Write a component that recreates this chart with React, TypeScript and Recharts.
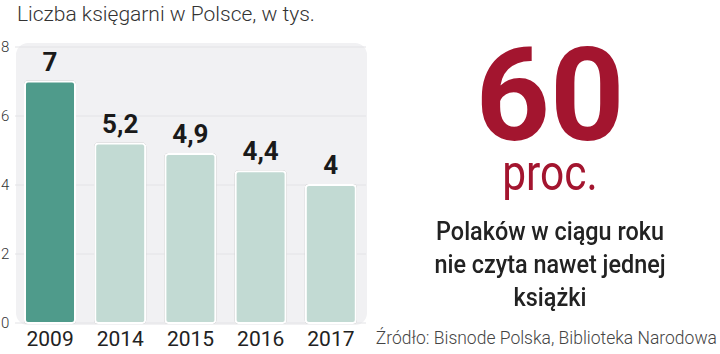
import { BarChart, Bar, XAxis, YAxis, CartesianGrid, Cell, LabelList } from 'recharts';

const years = ['2009', '2014', '2015', '2016', '2017'];
const shops = [7, 5.2, 4.9, 4.4, 4];
const yTicks = [0, 2, 4, 6, 8];

const data = years.map((year, i) => ({ year, value: shops[i] }));

const DARK = '#4f9b8b';
const LIGHT = '#c2dad3';
const FONT = 'Roboto, "Open Sans", sans-serif';

const YTick = (props: any) => {
  const { y, payload } = props;
  return (
    <text x={1} y={y} dy={5} fill="#333" fontSize={15} fontFamily={FONT} fontWeight={300}>
      {payload.value}
    </text>
  );
};

export default function App() {
  return (
    <div
      style={{
        position: 'absolute',
        left: 0,
        top: 0,
        width: 720,
        height: 354,
        background: '#fff',
        fontFamily: FONT,
        overflow: 'hidden',
      }}
    >
      <div
        style={{
          position: 'absolute',
          left: 17,
          top: 2,
          fontSize: 21,
          fontWeight: 300,
          color: '#333',
          whiteSpace: 'nowrap',
        }}
      >
        Liczba księgarni w Polsce, w tys.
      </div>
      <div
        style={{
          position: 'absolute',
          left: 16,
          top: 43,
          width: 351,
          height: 282,
          background: '#f1f1f3',
          borderRadius: 12,
        }}
      />
      <div style={{ position: 'absolute', left: 0, top: 0 }}>
        <BarChart
          width={370}
          height={354}
          data={data}
          margin={{ top: 47, right: 4, bottom: 0, left: 0 }}
          barCategoryGap={10}
        >
          <CartesianGrid vertical={false} stroke="#e3e3e6" />
          <YAxis
            width={15}
            domain={[0, 8]}
            ticks={yTicks}
            axisLine={false}
            tickLine={false}
            tick={<YTick />}
          />
          <XAxis
            dataKey="year"
            height={31}
            axisLine={false}
            tickLine={false}
            tick={{ fill: '#222', fontSize: 21, fontFamily: FONT }}
            dy={0}
          />
          <Bar
            dataKey="value"
            stroke="#fff"
            strokeWidth={2}
            radius={3}
            style={{ filter: 'drop-shadow(0 0 0.6px rgba(0,0,0,0.35))' }}
            isAnimationActive={false}
          >
            {data.map((d, i) => (
              <Cell key={d.year} fill={i === 0 ? DARK : LIGHT} />
            ))}
            <LabelList
              dataKey="value"
              position="top"
              offset={11}
              formatter={(v: any) => String(v).replace('.', ',')}
              style={{ fill: '#1a1a1a', fontSize: 26, fontWeight: 700, fontFamily: FONT }}
            />
          </Bar>
        </BarChart>
      </div>
      <div
        style={{
          position: 'absolute',
          left: 380,
          width: 340,
          top: 41,
          textAlign: 'center',
          fontSize: 130,
          lineHeight: '110px',
          fontWeight: 700,
          color: '#a3152f',
        }}
      >
        60
      </div>
      <div
        style={{
          position: 'absolute',
          left: 380,
          width: 340,
          top: 153,
          textAlign: 'center',
          fontSize: 50,
          lineHeight: '40px',
          color: '#a3152f',
          transform: 'scaleX(0.85)',
        }}
      >
        proc.
      </div>
      <div
        style={{
          position: 'absolute',
          left: 380,
          width: 340,
          top: 215,
          textAlign: 'center',
          fontSize: 26,
          lineHeight: '33px',
          fontWeight: 500,
          color: '#222',
          transform: 'scaleX(0.9)',
        }}
      >
        Polaków w ciągu roku
        <br />
        nie czyta nawet jednej
        <br />
        książki
      </div>
      <div
        style={{
          position: 'absolute',
          right: 3,
          top: 328,
          fontSize: 17.5,
          fontWeight: 300,
          color: '#444',
          whiteSpace: 'nowrap',
        }}
      >
        Źródło: Bisnode Polska, Biblioteka Narodowa
      </div>
    </div>
  );
}
